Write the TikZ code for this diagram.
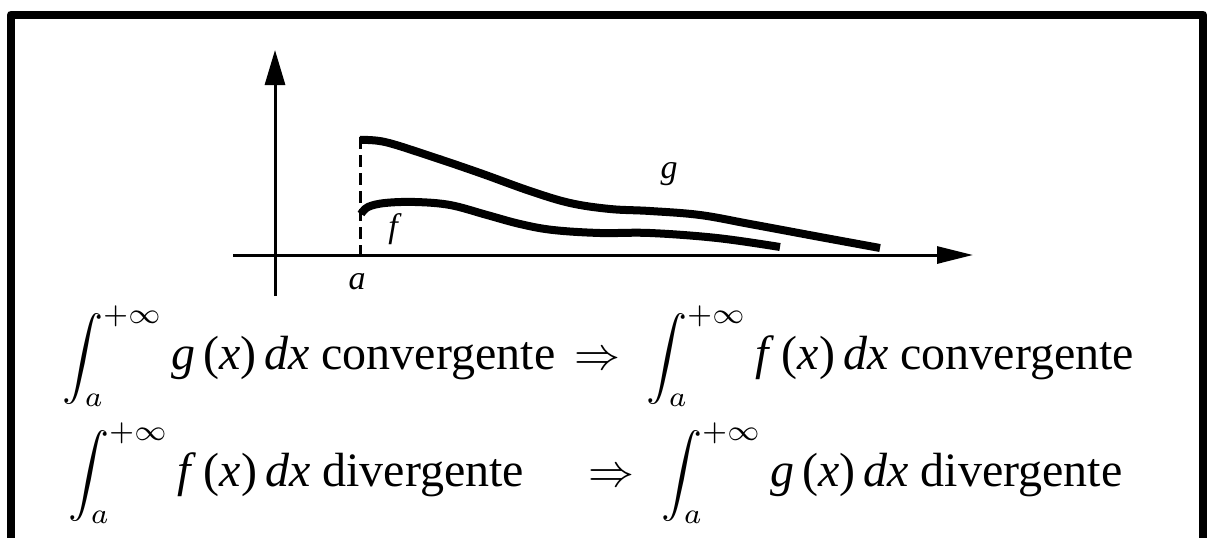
\documentclass[tikz,border=0pt]{standalone}
\usepackage{graphicx}
\usepackage{fontspec}
\setmainfont{Liberation Serif}
\usetikzlibrary{arrows.meta}
\newcommand{\intinf}{{\fontsize{10}{12}\selectfont\scalebox{4.1}{$\displaystyle\int_{a}^{+\infty}$}}}
\newcommand{\impl}{{\fontsize{10}{12}\selectfont\scalebox{4.6}{$\Rightarrow$}}}
\newcommand{\fx}{\textit{f}\,(\textit{x})\,\textit{dx}}
\newcommand{\gxx}{\textit{g}\,(\textit{x})\,\textit{dx}}
\begin{document}
\begin{tikzpicture}[x=1pt,y=-1pt,
  axis/.style={line width=3pt},
  frameline/.style={line width=8pt, line join=round},
  curve/.style={line width=8pt, line cap=butt},
  lab/.style={font=\fontsize{34}{40}\selectfont\itshape, inner sep=0},
  eq/.style={font=\fontsize{48}{52}\selectfont, anchor=base west, inner sep=0}]
\useasboundingbox (0,0) rectangle (1208,538);
\clip (0,0) rectangle (1208,538);
\fill[white] (0,0) rectangle (1208,538);
% frame
\draw[frameline] (11,560) -- (11,14.5) -- (1203,14.5) -- (1203,560);
% axes
\coordinate (yb) at (275,296);
\coordinate (yt) at (275,50);
\coordinate (xl) at (233,255);
\coordinate (xr) at (973,255);
\draw[axis,-{Triangle[length=35pt,width=20pt]}] (yb) -- (yt);
\draw[axis,-{Triangle[length=36pt,width=17pt]}] (xl) -- (xr);
% dashed line at a
\coordinate (at) at (360,137);
\coordinate (ab) at (360,255);
\draw[line width=3pt, dash pattern=on 12pt off 6pt] (at) -- (ab);
% curves
\draw[curve] plot[smooth, tension=0.6] coordinates {(360,140) (385,142) (430,156) (480,173) (530,191) (570,203) (610,209) (650,211) (700,215) (750,224) (820,237) (880,248)};
\draw[curve] plot[smooth, tension=0.6] coordinates {(361,214) (368,207) (385,203) (415,202) (450,205) (487,215) (520,224) (553,230) (600,233) (650,233) (717,238) (780,247)};
% labels
\node[lab] (la) at (357,282) {a};
\node[lab] (lf) at (393,229) {f};
\node[lab] (lg) at (669,174) {g};
% equations
\node[eq] (e1l) at (62,369) {\intinf\,\gxx{} convergente};
\node[eq] (i1) at (574,369) {\impl};
\node[eq] (e1r) at (646,369) {\intinf\,\fx{} convergente};
\node[eq] (e2l) at (68,486) {\intinf\,\fx{} divergente};
\node[eq] (i2) at (588,486) {\impl};
\node[eq] (e2r) at (661,486) {\intinf\,\gxx{} divergente};
\end{tikzpicture}
\end{document}
